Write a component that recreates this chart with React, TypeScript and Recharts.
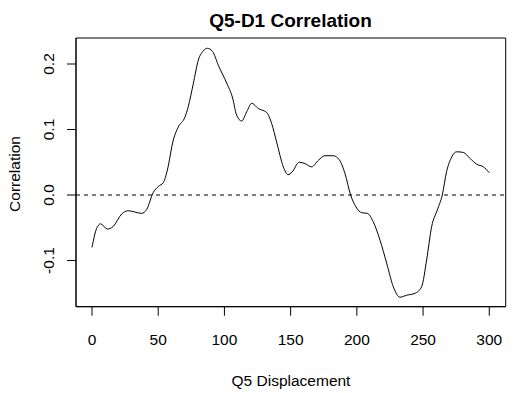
import { Line, LineChart, ReferenceArea, ReferenceLine, XAxis, YAxis } from 'recharts';

const displacement = [
  0, 3.5, 6.5, 11.6, 16, 22.4, 27.4, 37.5, 41.3, 46.3, 50, 53.9, 56.9, 61.4, 65.2, 70.2, 72.7,
  76.5, 80.3, 84, 87.1, 91.1, 95.4, 101.7, 106.2, 109.2, 113, 116.8, 120.6, 125.6, 131.9, 135.7,
  139.4, 144.5, 148, 151, 156.5, 160.8, 165.9, 170.9, 175.9, 182.2, 186.7, 191, 195.3, 199.3,
  203.6, 207.9, 212.4, 217.5, 222.5, 227.5, 232.6, 237.6, 243.9, 248.9, 252.7, 256.5, 260.7,
  264.5, 267.8, 271.6, 275.4, 280.4, 285.4, 290.5, 295.5, 300,
];

const correlation = [
  -0.08, -0.051, -0.044, -0.052, -0.048, -0.029, -0.024, -0.028, -0.022, 0.004, 0.013, 0.019,
  0.038, 0.084, 0.104, 0.119, 0.135, 0.17, 0.206, 0.22, 0.224, 0.219, 0.198, 0.171, 0.148, 0.122,
  0.113, 0.127, 0.14, 0.132, 0.126, 0.109, 0.081, 0.043, 0.031, 0.035, 0.05, 0.048, 0.043, 0.053,
  0.06, 0.06, 0.054, 0.033, 0, -0.018, -0.027, -0.028, -0.041, -0.069, -0.104, -0.14, -0.156,
  -0.153, -0.15, -0.14, -0.099, -0.048, -0.023, 0, 0.036, 0.058, 0.066, 0.065, 0.056, 0.047,
  0.043, 0.034,
];

const xTicks = [0, 50, 100, 150, 200, 250, 300];
const yTicks = [-0.1, 0, 0.1, 0.2];

const data = displacement.map((x, i) => ({ x, r: correlation[i] }));

const font = '"Liberation Sans", Arial, sans-serif';
const xDomain = [-12.08, 312.4];
const yDomain = [-0.1705, 0.2397];

const XTick = ({ x, y, payload }: any) => (
  <text x={x} y={y} dy={29.3} textAnchor="middle" fontSize={15.5} fontFamily={font} fill="#000">
    {payload.value}
  </text>
);

const YTick = ({ x, y, payload }: any) => (
  <text
    x={x - 13}
    y={y}
    transform={`rotate(-90, ${x - 13}, ${y})`}
    textAnchor="middle"
    fontSize={15.5}
    fontFamily={font}
    fill="#000"
  >
    {Number(payload.value).toFixed(1)}
  </text>
);

export default function App() {
  return (
    <div style={{ position: 'absolute', left: 0, top: 0, background: '#fff' }}>
      <LineChart width={524} height={393} data={data} margin={{ top: 38, right: 18.3, bottom: 0, left: 0 }}>
        <XAxis
          dataKey="x"
          type="number"
          domain={xDomain}
          ticks={xTicks}
          height={86.3}
          tickSize={9}
          tickMargin={0}
          stroke="#000"
          tick={<XTick />}
          label={{
            content: () => (
              <text x={291} y={386} textAnchor="middle" fontSize={15.5} fontFamily={font} fill="#000">
                Q5 Displacement
              </text>
            ),
          }}
        />
        <YAxis
          type="number"
          domain={yDomain}
          ticks={yTicks}
          width={76}
          tickSize={9}
          tickMargin={0}
          stroke="#000"
          tick={<YTick />}
          label={{
            content: () => (
              <g>
                <text x={290.5} y={27} textAnchor="middle" fontSize={19} fontWeight="bold" fontFamily={font} fill="#000">
                  Q5-D1 Correlation
                </text>
                <text
                  x={20}
                  y={174}
                  transform="rotate(-90, 20, 174)"
                  textAnchor="middle"
                  fontSize={15.5}
                  fontFamily={font}
                  fill="#000"
                >
                  Correlation
                </text>
              </g>
            ),
          }}
        />
        <ReferenceArea
          x1={xDomain[0]}
          x2={xDomain[1]}
          y1={yDomain[0]}
          y2={yDomain[1]}
          fill="none"
          fillOpacity={0}
          stroke="#000"
          strokeWidth={1}
        />
        <ReferenceLine y={0} stroke="#000" strokeDasharray="4 4" />
        <Line
          dataKey="r"
          type="monotone"
          stroke="#000"
          strokeWidth={1}
          dot={false}
          isAnimationActive={false}
        />
      </LineChart>
    </div>
  );
}
